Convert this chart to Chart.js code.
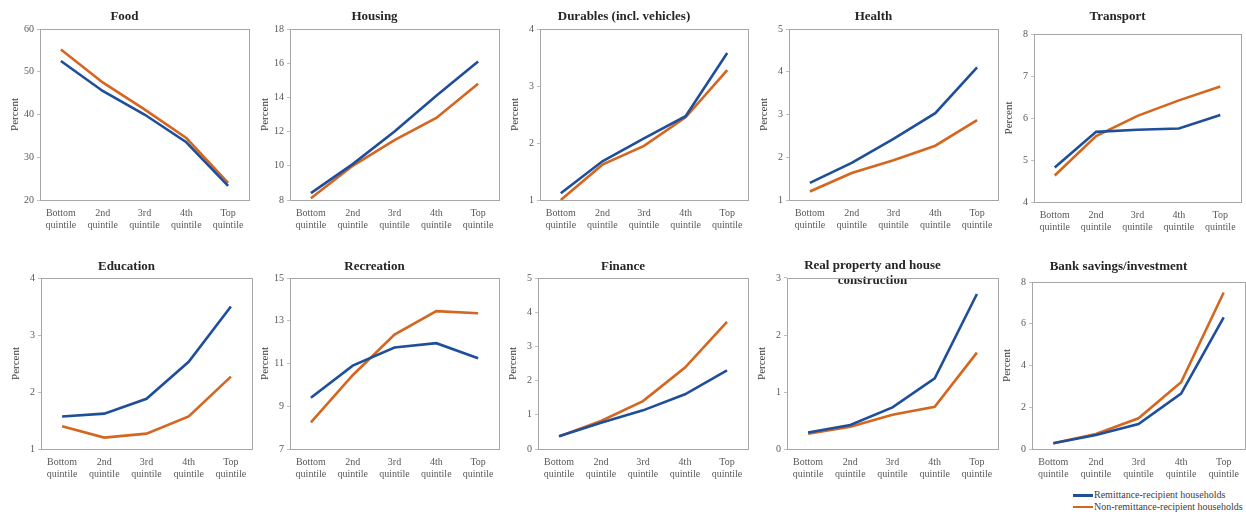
<!DOCTYPE html>
<html>
<head>
<meta charset="utf-8">
<script src="https://cdn.jsdelivr.net/npm/chart.js@4.4.1/dist/chart.umd.min.js"></script>
<style>
  html, body { margin: 0; padding: 0; background: #fff; overflow: hidden; width: 1246px; height: 512px; }
  .panel { position: absolute; }
  #legend { position: absolute; left: 1073px; top: 489px; font: 10px "Liberation Serif", serif; color: #404040; }
  #legend div { height: 11.5px; line-height: 11.5px; white-space: nowrap; }
  #legend span { display: inline-block; width: 20px; height: 2.5px; vertical-align: middle; margin-right: 1px; }
</style>
</head>
<body>
<div id="legend"></div>
<script>
// data
const quintiles = [['Bottom', 'quintile'], ['2nd', 'quintile'], ['3rd', 'quintile'], ['4th', 'quintile'], ['Top', 'quintile']];
const seriesNames = ['Remittance-recipient households', 'Non-remittance-recipient households'];

const titles = ['Food', 'Housing', 'Durables (incl. vehicles)', 'Health', 'Transport',
  'Education', 'Recreation', 'Finance', ['Real property and house', 'construction'], 'Bank savings/investment'];

const remittance = [
  [52.5, 45.5, 40.0, 33.5, 23.3],
  [8.4, 10.1, 12.0, 14.1, 16.1],
  [1.12, 1.68, 2.08, 2.47, 3.58],
  [1.4, 1.87, 2.43, 3.03, 4.1],
  [4.82, 5.67, 5.72, 5.75, 6.07],
  [1.57, 1.62, 1.88, 2.53, 3.5],
  [9.4, 10.9, 11.75, 11.95, 11.25],
  [0.37, 0.77, 1.13, 1.6, 2.3],
  [0.29, 0.42, 0.73, 1.24, 2.72],
  [0.28, 0.67, 1.2, 2.65, 6.3]
];
const nonRemittance = [
  [55.2, 47.5, 41.2, 34.5, 24.0],
  [8.1, 10.0, 11.5, 12.8, 14.8],
  [1.0, 1.62, 1.95, 2.45, 3.28],
  [1.2, 1.63, 1.93, 2.27, 2.87],
  [4.63, 5.57, 6.05, 6.42, 6.75],
  [1.4, 1.2, 1.27, 1.57, 2.27],
  [8.25, 10.45, 12.35, 13.45, 13.35],
  [0.37, 0.82, 1.4, 2.38, 3.72],
  [0.27, 0.39, 0.6, 0.74, 1.69],
  [0.28, 0.72, 1.47, 3.2, 7.5]
];

// y axis ranges [min, max, step]
const yMin = [20, 8, 1, 1, 4, 1, 7, 0, 0, 0];
const yMax = [60, 18, 4, 5, 8, 4, 15, 5, 3, 8];
const yStep = [10, 2, 1, 1, 1, 1, 2, 1, 1, 2];

// layout: plot area [left, top, right, bottom] and row top
const boxes = [
  [40, 29, 249, 200], [290, 29, 499, 200], [540, 29, 748, 200], [789, 29, 998, 200], [1034, 34, 1241, 202],
  [41, 278, 252, 449], [290, 278, 499, 449], [538, 278, 748, 449], [787, 278, 998, 449], [1032, 282, 1245, 449]
];
const rowTops = [0, 0, 0, 0, 0, 250, 250, 250, 250, 250];

const colors = ['#1F4E9B', '#D4661F'];
const serif = '"Liberation Serif", "Times New Roman", serif';

const frame = {
  id: 'frame',
  afterDraw(chart) {
    const a = chart.chartArea;
    const ctx = chart.ctx;
    ctx.save();
    ctx.strokeStyle = '#a6a6a6';
    ctx.lineWidth = 1;
    ctx.strokeRect(Math.round(a.left) + 0.5, Math.round(a.top) + 0.5, Math.round(a.right - a.left), Math.round(a.bottom - a.top));
    ctx.restore();
  }
};

for (let i = 0; i < titles.length; i++) {
  const b = boxes[i];
  const axisW = 40, axisH = 40, extraR = 22;
  const left = b[0] - axisW;
  const top = rowTops[i];
  const width = b[2] - left + extraR;
  const height = b[3] + axisH - top;
  const lines = Array.isArray(titles[i]) ? titles[i].length : 1;
  const lh = lines > 1 ? 15 : 15.6;
  const tTop = lines > 1 ? 8 : 9;
  const tBottom = (b[1] - top) - tTop - lines * lh;

  const c = document.createElement('canvas');
  c.className = 'panel';
  c.style.left = left + 'px';
  c.style.top = top + 'px';
  c.style.width = width + 'px';
  c.style.height = height + 'px';
  c.width = width;
  c.height = height;
  document.body.appendChild(c);

  new Chart(c.getContext('2d'), {
    type: 'line',
    data: {
      labels: quintiles,
      datasets: [
        { label: seriesNames[0], data: remittance[i], borderColor: colors[0] },
        { label: seriesNames[1], data: nonRemittance[i], borderColor: colors[1] }
      ]
    },
    options: {
      responsive: false,
      animation: false,
      layout: { padding: { left: 0, right: extraR, top: 0, bottom: 0 } },
      elements: {
        line: { borderWidth: 2.6, tension: 0 },
        point: { radius: 0 }
      },
      plugins: {
        legend: { display: false },
        tooltip: { enabled: false },
        title: {
          display: true,
          text: titles[i],
          color: '#262626',
          font: { family: serif, size: 13, weight: 'bold', lineHeight: lh / 13 },
          padding: { top: tTop, bottom: tBottom }
        }
      },
      scales: {
        x: {
          offset: true,
          grid: { display: false },
          border: { display: false },
          ticks: { color: '#595959', font: { family: serif, size: 10, lineHeight: 1.15 }, padding: 0, maxRotation: 0, autoSkip: false },
          afterFit(s) { s.height = axisH; }
        },
        y: {
          min: yMin[i],
          max: yMax[i],
          grid: { drawOnChartArea: false, drawTicks: true, tickLength: 3, color: '#bfbfbf' },
          border: { display: false },
          ticks: { stepSize: yStep[i], color: '#595959', font: { family: serif, size: 10 }, padding: 3 },
          title: { display: true, text: 'Percent', color: '#404040', font: { family: serif, size: 11 }, padding: { top: 9, bottom: 0 } },
          afterFit(s) { s.width = axisW; }
        }
      }
    },
    plugins: [frame]
  });
}

const legend = document.getElementById('legend');
seriesNames.forEach((name, k) => {
  const row = document.createElement('div');
  const sw = document.createElement('span');
  sw.style.background = colors[k];
  row.appendChild(sw);
  row.appendChild(document.createTextNode(name));
  legend.appendChild(row);
});
</script>
</body>
</html>
